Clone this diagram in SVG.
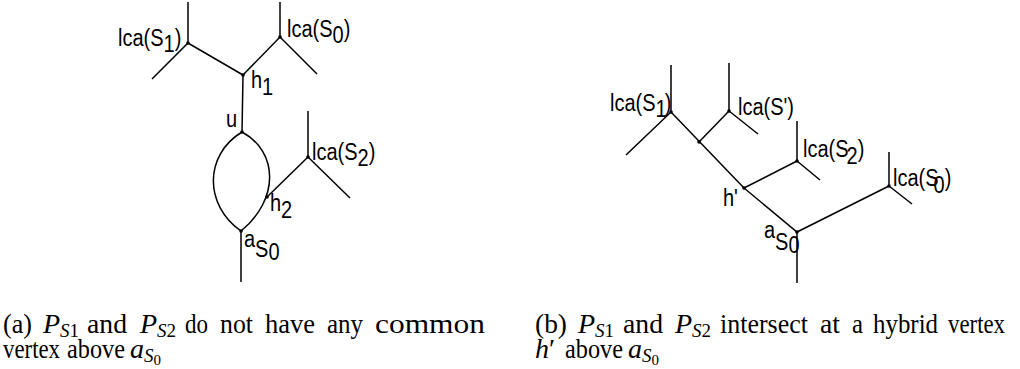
<svg xmlns="http://www.w3.org/2000/svg" width="1020" height="369" viewBox="0 0 1020 369">
<style>
.e{stroke:#000;stroke-width:1.5;fill:none;stroke-linecap:butt}
.d{fill:#000}
.l{font-family:"Liberation Sans",Arial,sans-serif;font-size:20px;fill:#000}
.c{font-family:"Liberation Serif","Times New Roman",serif;font-size:28px;fill:#000}
.m{font-family:"Liberation Serif","Times New Roman",serif;font-style:italic;font-size:28px;fill:#000}
.s{font-size:19px}
.ss{font-size:15px;font-style:normal}
</style>
<rect width="1020" height="369" fill="#fff"/>
<g id="connectors">
<path class="e" d="M188,2V43M152,79L188,43L243,75M280,2V37M317,74L280,37L243,75M243,75L242,132"/>
<path class="e" d="M242,132C204,155 204,205 241,231M242,132C279,152 279,200 241,231"/>
<path class="e" d="M267,197L308,157M308,111V157L350,198M241,231V282"/>
<path class="e" d="M671,65V112M626,155L671,112L744,188M729,63V111L758,134M729,111L699,142"/>
<path class="e" d="M797,121V161L820,180M797,161L744,188L797,232L889,186M889,152V186L912,204M797,232V283"/>
</g>
<g id="lca-S1-a"><circle class="d" cx="188" cy="43" r="1.8"/><text class="l" transform="translate(118,46) scale(1,1.15)">lca(S<tspan dy="5">1</tspan><tspan dy="-5">)</tspan></text></g>
<g id="lca-S0-a"><circle class="d" cx="280" cy="37" r="1.8"/><text class="l" transform="translate(287,37) scale(1,1.15)">lca(S<tspan dy="5">0</tspan><tspan dy="-5">)</tspan></text></g>
<g id="h1"><circle class="d" cx="243" cy="75" r="1.8"/><text class="l" transform="translate(251,88) scale(1,1.15)">h<tspan dy="6">1</tspan></text></g>
<g id="u"><circle class="d" cx="242" cy="132" r="1.8"/><text class="l" transform="translate(226,127) scale(1,1.15)">u</text></g>
<g id="lca-S2-a"><circle class="d" cx="308" cy="157" r="1.8"/><text class="l" transform="translate(312,160) scale(1,1.15)">lca(S<tspan dy="5">2</tspan><tspan dy="-5">)</tspan></text></g>
<g id="h2"><circle class="d" cx="267" cy="197" r="1.8"/><text class="l" transform="translate(270,211) scale(1,1.15)">h<tspan dy="6">2</tspan></text></g>
<g id="aS0-a"><circle class="d" cx="241" cy="231" r="1.8"/><text class="l" transform="translate(244,247) scale(1,1.15)">a<tspan dy="9">S</tspan><tspan dy="2">0</tspan></text></g>
<g id="lca-S1-b"><circle class="d" cx="671" cy="112" r="1.8"/><text class="l" transform="translate(610,111) scale(1,1.15)">lca(S<tspan dy="5">1</tspan><tspan dy="-5" dx="-2">)</tspan></text></g>
<g id="lca-Sp-b"><circle class="d" cx="729" cy="111" r="1.8"/><text class="l" transform="translate(738,115) scale(1,1.15)">lca(S')</text></g>
<g id="j-b"><circle class="d" cx="699" cy="142" r="1.8"/></g>
<g id="lca-S2-b"><circle class="d" cx="797" cy="161" r="1.8"/><text class="l" transform="translate(803,157) scale(1,1.15)">lca(S<tspan dy="6" dx="-2">2</tspan><tspan dy="-6">)</tspan></text></g>
<g id="hp"><circle class="d" cx="744" cy="188" r="1.8"/><text class="l" transform="translate(723,206) scale(1,1.15)">h'</text></g>
<g id="lca-S0-b"><circle class="d" cx="889" cy="186" r="1.8"/><text class="l" transform="translate(893,186) scale(1,1.15)">lca(S<tspan dy="6" dx="-5">0</tspan><tspan dy="-6">)</tspan></text></g>
<g id="aS0-b"><circle class="d" cx="797" cy="232" r="1.8"/><text class="l" transform="translate(764,238) scale(1,1.15)">a<tspan dy="10">S</tspan><tspan dy="3">0</tspan></text></g>
<g id="caption-a">
<text class="c" x="3" y="333" textLength="29" lengthAdjust="spacingAndGlyphs">(a)</text>
<text class="m" x="43" y="333">P<tspan class="s" dy="4">S</tspan><tspan class="s" font-style="normal">1</tspan></text>
<text class="c" x="87" y="333" textLength="40" lengthAdjust="spacingAndGlyphs">and</text>
<text class="m" x="140" y="333">P<tspan class="s" dy="4">S</tspan><tspan class="s" font-style="normal">2</tspan></text>
<text class="c" x="185" y="333" textLength="23" lengthAdjust="spacingAndGlyphs">do</text>
<text class="c" x="220" y="333" textLength="33" lengthAdjust="spacingAndGlyphs">not</text>
<text class="c" x="265" y="333" textLength="50" lengthAdjust="spacingAndGlyphs">have</text>
<text class="c" x="327" y="333" textLength="36" lengthAdjust="spacingAndGlyphs">any</text>
<text class="c" x="375" y="333" textLength="110" lengthAdjust="spacingAndGlyphs">common</text>
<text class="c" x="3" y="358" textLength="57" lengthAdjust="spacingAndGlyphs">vertex</text>
<text class="c" x="67" y="358" textLength="58" lengthAdjust="spacingAndGlyphs">above</text>
<text class="m" x="130" y="358">a<tspan class="s" dy="4">S</tspan><tspan class="ss" dy="3">0</tspan></text>
</g>
<g id="caption-b">
<text class="c" x="535" y="333" textLength="32" lengthAdjust="spacingAndGlyphs">(b)</text>
<text class="m" x="578" y="333">P<tspan class="s" dy="4">S</tspan><tspan class="s" font-style="normal">1</tspan></text>
<text class="c" x="623" y="333" textLength="40" lengthAdjust="spacingAndGlyphs">and</text>
<text class="m" x="675" y="333">P<tspan class="s" dy="4">S</tspan><tspan class="s" font-style="normal">2</tspan></text>
<text class="c" x="720" y="333" textLength="88" lengthAdjust="spacingAndGlyphs">intersect</text>
<text class="c" x="820" y="333" textLength="20" lengthAdjust="spacingAndGlyphs">at</text>
<text class="c" x="852" y="333" textLength="11" lengthAdjust="spacingAndGlyphs">a</text>
<text class="c" x="873" y="333" textLength="65" lengthAdjust="spacingAndGlyphs">hybrid</text>
<text class="c" x="948" y="333" textLength="57" lengthAdjust="spacingAndGlyphs">vertex</text>
<text class="m" x="535" y="358">h<tspan font-style="normal">′</tspan></text>
<text class="c" x="565" y="358" textLength="58" lengthAdjust="spacingAndGlyphs">above</text>
<text class="m" x="628" y="358">a<tspan class="s" dy="4">S</tspan><tspan class="ss" dy="3">0</tspan></text>
</g>
</svg>
